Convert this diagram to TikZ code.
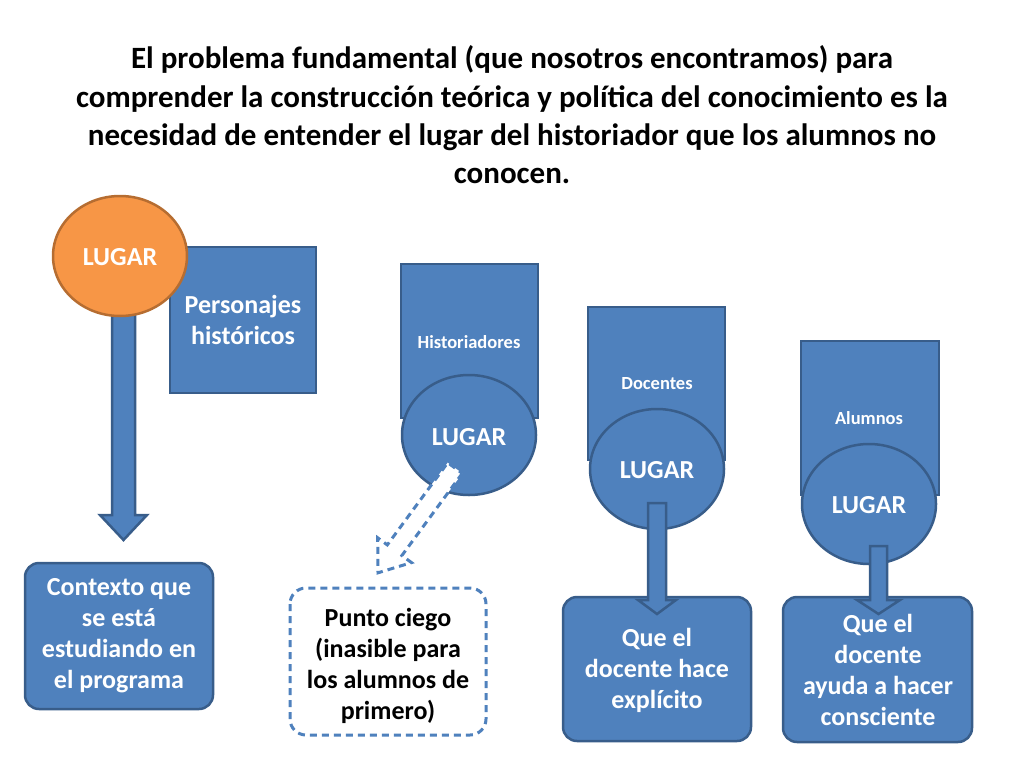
\documentclass[tikz,border=0pt]{standalone}
\usepackage{fontspec}
\setmainfont{Carlito}
\definecolor{bfill}{HTML}{4F81BD}
\definecolor{bdraw}{HTML}{385D8A}
\definecolor{ofill}{HTML}{F79646}
\definecolor{odraw}{HTML}{B66D31}
\begin{document}
\begin{tikzpicture}[x=1pt,y=-1pt,
  sq/.style={draw=bdraw,fill=bfill,line width=2.5pt},
  rbox/.style={draw=bdraw,fill=bfill,line width=2.5pt,rounded corners=14pt},
  ell/.style={draw=bdraw,fill=bfill,line width=2.5pt},
  wt/.style={text=white,font=\bfseries\fontsize{26}{31}\selectfont,align=center},
  sm/.style={text=white,font=\bfseries\fontsize{18.5}{20}\selectfont},
  lug/.style={text=white,font=\bfseries\fontsize{26}{28}\selectfont}]
\useasboundingbox (0,0) rectangle (1024,768);
\node[font=\bfseries\fontsize{31}{38.3}\selectfont,align=center] (title) at (512,115)
 {El problema fundamental (que nosotros encontramos) para\\comprender la construcción teórica y política del conocimiento es la\\necesidad de entender el lugar del historiador que los alumnos no\\conocen.};
% column 1
\draw[sq] (170,247) rectangle (316,393);
\node[wt] (pers) at (243,320) {Personajes\\históricos};
\draw[rbox] (25,563) rectangle (213,709);
\node[wt] (ctx) at (119,636) {Contexto que\\se está\\estudiando en\\el programa};
\draw[sq] (112,300) -- (135,300) -- (135,515) -- (147,515) -- (123.5,540) -- (100,515) -- (112,515) -- cycle;
\draw[draw=odraw,fill=ofill,line width=2.5pt] (120,256) ellipse [x radius=67,y radius=60];
\node[lug] (l1) at (120,257) {LUGAR};
% column 2
\draw[sq] (401,264) rectangle (538,418);
\node[sm] (hist) at (469,342) {Historiadores};
\draw[ell] (469,435) ellipse [x radius=67,y radius=60];
\node[lug] (l2) at (469,437) {LUGAR};
\draw[draw=bfill,fill=white,line width=3pt,dashed,dash pattern=on 7pt off 5pt]
 (462.3,473.3) -- (401.9,555.5) -- (411.5,562.6) -- (378.0,572.8) -- (377.7,537.8) -- (387.3,544.9) -- (447.7,462.7) -- cycle;
\draw[draw=bfill,fill=white,line width=3pt,dash pattern=on 7pt off 5pt,rounded corners=16pt] (290,588) rectangle (486,735);
\node[font=\bfseries\fontsize{26}{31}\selectfont,align=center] (pc) at (388,666) {Punto ciego\\(inasible para\\los alumnos de\\primero)};
% column 3
\draw[sq] (588,307) rectangle (725,460);
\node[sm] (doc) at (657,384) {Docentes};
\draw[ell] (657,469) ellipse [x radius=67,y radius=60];
\node[lug] (l3) at (657,470) {LUGAR};
\draw[rbox] (563,597) rectangle (751,741);
\node[wt] (q1) at (657,670) {Que el\\docente hace\\explícito};
\draw[sq] (648,503) -- (666,503) -- (666,600) -- (676,600) -- (657,614) -- (638,600) -- (648,600) -- cycle;
% column 4
\draw[sq] (801,341) rectangle (939,495);
\node[sm] (alu) at (869,418) {Alumnos};
\draw[ell] (869,504) ellipse [x radius=67,y radius=60];
\node[lug] (l4) at (869,505) {LUGAR};
\draw[rbox] (783,597) rectangle (972,742);
\node[wt] (q2) at (878,670) {Que el\\docente\\ayuda a hacer\\consciente};
\draw[sq] (870,546) -- (887,546) -- (887,600) -- (900,600) -- (878.5,614) -- (857,600) -- (870,600) -- cycle;
\end{tikzpicture}
\end{document}
